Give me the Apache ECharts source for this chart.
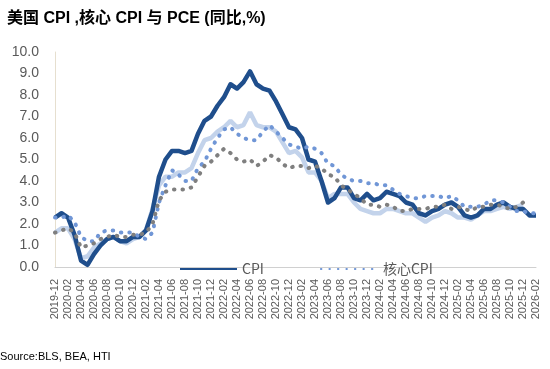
<!DOCTYPE html>
<html>
<head>
<meta charset="utf-8">
<script src="https://cdn.jsdelivr.net/npm/echarts@6/dist/echarts.min.js"></script>
<style>
html,body{margin:0;padding:0;background:#fff;}
#c{width:550px;height:369px;}
</style>
</head>
<body>
<div id="c"></div>
<script>
const months = [
'2019-12',
'2020-01','2020-02','2020-03','2020-04','2020-05','2020-06','2020-07','2020-08','2020-09','2020-10','2020-11','2020-12',
'2021-01','2021-02','2021-03','2021-04','2021-05','2021-06','2021-07','2021-08','2021-09','2021-10','2021-11','2021-12',
'2022-01','2022-02','2022-03','2022-04','2022-05','2022-06','2022-07','2022-08','2022-09','2022-10','2022-11','2022-12',
'2023-01','2023-02','2023-03','2023-04','2023-05','2023-06','2023-07','2023-08','2023-09','2023-10','2023-11','2023-12',
'2024-01','2024-02','2024-03','2024-04','2024-05','2024-06','2024-07','2024-08','2024-09','2024-10','2024-11','2024-12',
'2025-01','2025-02','2025-03','2025-04','2025-05','2025-06','2025-07','2025-08','2025-09','2025-10','2025-11','2025-12',
'2026-01','2026-02'
];
// CPI YoY
const cpi = [
2.3,
2.5,2.3,1.5,0.3,0.1,0.6,1.0,1.3,1.4,1.2,1.2,1.4,
1.4,1.7,2.6,4.2,5.0,5.4,5.4,5.3,5.4,6.2,6.8,7.0,
7.5,7.9,8.5,8.3,8.6,9.1,8.5,8.3,8.2,7.7,7.1,6.5,
6.4,6.0,5.0,4.9,4.0,3.0,3.2,3.7,3.7,3.2,3.1,3.4,
3.1,3.2,3.5,3.4,3.3,3.0,2.9,2.5,2.4,2.6,2.7,2.9,
3.0,2.8,2.4,2.3,2.4,2.7,2.7,2.9,3.0,2.8,2.7,2.7,
2.4,2.4
];
// PCE YoY (light solid)
const pce = [
1.6,
1.8,1.8,1.3,0.4,0.5,0.9,1.1,1.3,1.4,1.2,1.1,1.3,
1.4,1.7,2.7,3.8,4.2,4.2,4.4,4.4,4.6,5.3,5.9,6.0,
6.3,6.5,6.8,6.5,6.6,7.2,6.6,6.5,6.5,6.3,5.8,5.3,
5.4,5.1,4.4,4.4,4.0,3.2,3.4,3.4,3.4,3.0,2.7,2.6,
2.5,2.5,2.7,2.7,2.6,2.5,2.5,2.3,2.1,2.3,2.4,2.6,
2.5,2.3,2.3,2.2,2.4,2.6,2.6,2.7,2.8,2.7,2.8,2.9
];
// Core CPI YoY (blue dotted)
const coreCpi = [
2.3,
2.3,2.4,2.1,1.4,1.2,1.2,1.6,1.7,1.7,1.6,1.6,1.6,
1.4,1.3,1.6,3.0,3.8,4.5,4.3,4.0,4.0,4.6,4.9,5.5,
6.0,6.4,6.5,6.2,6.0,5.9,5.9,6.3,6.6,6.3,6.0,5.7,
5.6,5.5,5.6,5.5,5.3,4.8,4.7,4.3,4.1,4.0,4.0,3.9,
3.9,3.8,3.8,3.6,3.4,3.3,3.2,3.2,3.3,3.3,3.3,3.2,
3.3,3.1,2.8,2.8,2.8,2.9,3.1,3.1,3.0,2.8,2.6,2.6,
2.5,2.5
];
// Core PCE YoY (grey dotted)
const corePce = [
1.6,
1.7,1.8,1.6,0.9,1.0,1.1,1.3,1.4,1.5,1.4,1.4,1.5,
1.5,1.6,2.0,3.1,3.5,3.6,3.6,3.6,3.7,4.2,4.7,4.9,
5.2,5.5,5.3,5.0,4.9,5.0,4.7,4.9,5.2,5.1,4.8,4.6,
4.7,4.7,4.6,4.7,4.6,4.3,4.2,3.8,3.6,3.4,3.2,2.9,
2.9,2.8,2.9,2.8,2.6,2.6,2.7,2.7,2.7,2.8,2.8,2.9,
2.7,2.8,2.7,2.6,2.8,2.8,2.9,2.9,2.8,2.7,2.8,3.0
];
const yTicks = {min:0, max:10, interval:1};

const chart = echarts.init(document.getElementById('c'), null, {renderer:'canvas'});
const txt = '#595959';
chart.setOption({
  animation:false,
  backgroundColor:'#fff',
  title:{
    text:'美国 CPI ,核心 CPI 与 PCE (同比,%)',
    left:2, top:6,
    textStyle:{fontSize:16, fontWeight:'bold', color:'#000', fontFamily:'"Liberation Sans","Noto Sans CJK SC",sans-serif'}
  },
  graphic:[{
    type:'text', left:0, top:351,
    style:{text:'Source:BLS, BEA, HTI', fontSize:11, fill:'#000', fontFamily:'"Liberation Sans",sans-serif'}
  }],
  legend:{
    data:['CPI','核心CPI'],
    left:174, top:257,
    itemWidth:57, itemHeight:14, itemGap:56,
    itemStyle:{opacity:0},
    textStyle:{fontSize:14, color:txt, fontFamily:'"Noto Sans CJK SC","Liberation Sans",sans-serif'}
  },
  grid:{left:55, right:14, top:52, bottom:102, containLabel:false},
  xAxis:{
    type:'category', data:months, boundaryGap:false,
    axisLine:{show:true, lineStyle:{color:'#d0d0d0', width:1}},
    axisTick:{show:false},
    axisLabel:{rotate:90, interval:1, fontSize:11, color:txt, margin:12, fontFamily:'"Liberation Sans",sans-serif'},
    splitLine:{show:false}
  },
  yAxis:{
    type:'value', min:yTicks.min, max:yTicks.max, interval:yTicks.interval,
    axisLine:{show:true, lineStyle:{color:'#e6dfcf', width:1}},
    axisTick:{show:false},
    splitLine:{show:false},
    axisLabel:{fontSize:14, color:txt, margin:16, formatter:v=>v.toFixed(1), fontFamily:'"Liberation Sans",sans-serif'}
  },
  series:[
    {name:'PCE', type:'line', data:pce, symbol:'none', z:2,
     lineStyle:{color:'#c3d3eb', width:4.5}, itemStyle:{color:'#c3d3eb'}},
    {name:'CPI', type:'line', data:cpi, symbol:'none', z:3,
     lineStyle:{color:'#1f4e8c', width:4.5, join:'round'}, itemStyle:{color:'#1f4e8c'}},
    {name:'核心CPI', type:'line', data:coreCpi, symbol:'none', z:4,
     lineStyle:{color:'#7096d6', width:4, type:[0.5,8], cap:'round'}, itemStyle:{color:'#7096d6'}},
    {name:'核心PCE', type:'line', data:corePce, symbol:'none', z:5,
     lineStyle:{color:'#7f7f7f', width:4, type:[0.5,8], cap:'round'}, itemStyle:{color:'#7f7f7f'}}
  ]
});
</script>
</body>
</html>
